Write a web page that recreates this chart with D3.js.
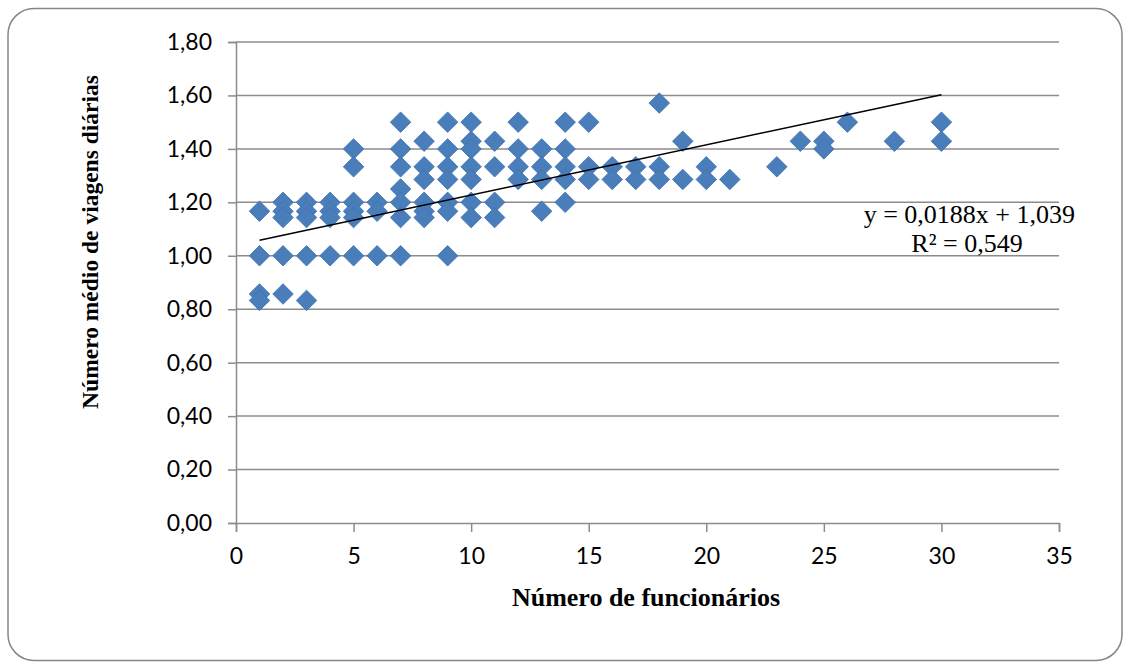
<!DOCTYPE html>
<html><head><meta charset="utf-8">
<script src="https://cdn.jsdelivr.net/npm/d3@7"></script>
<style>body{margin:0;background:#fff;}svg{display:block;}</style>
</head><body>
<script>
// Data: number of employees (x) and average daily trips (y)
const funcionarios = [
 1,1,1,1,
 2,2,2,2,2,
 3,3,3,3,3,
 4,4,4,4,
 5,5,5,5,5,5,
 6,6,6,
 7,7,7,7,7,7,7,
 8,8,8,8,8,8,
 9,9,9,9,9,9,9,
 10,10,10,10,10,10,10,
 11,11,11,11,
 12,12,12,12,
 13,13,13,13,
 14,14,14,14,14,
 15,15,15,
 16,16,
 17,17,
 18,18,18,
 19,19,
 20,20,
 21,
 23,
 24,
 25,25,
 26,
 28,
 30,30
];
const viagens = [
 1.1667,1.0,0.857,0.833,
 1.2,1.1667,1.143,1.0,0.857,
 1.2,1.1667,1.143,1.0,0.833,
 1.2,1.1667,1.143,1.0,
 1.4,1.333,1.2,1.1667,1.143,1.0,
 1.2,1.1667,1.0,
 1.5,1.4,1.333,1.25,1.2,1.143,1.0,
 1.4286,1.333,1.2857,1.2,1.1667,1.143,
 1.5,1.4,1.333,1.2857,1.2,1.1667,1.0,
 1.5,1.4286,1.4,1.333,1.2857,1.2,1.143,
 1.4286,1.333,1.2,1.143,
 1.5,1.4,1.333,1.2857,
 1.4,1.333,1.2857,1.1667,
 1.5,1.4,1.333,1.2857,1.2,
 1.5,1.333,1.2857,
 1.333,1.2857,
 1.333,1.2857,
 1.5714,1.333,1.2857,
 1.4286,1.2857,
 1.333,1.2857,
 1.2857,
 1.333,
 1.4286,
 1.4286,1.4,
 1.5,
 1.4286,
 1.5,1.4286
];
const xTicks = [0,5,10,15,20,25,30,35];
const yTicks = [0,0.2,0.4,0.6,0.8,1.0,1.2,1.4,1.6,1.8];
const trendSlope = 0.0188, trendIntercept = 1.039;
const trendRange = [1, 30];
const eqLabel = "y = 0,0188x + 1,039";
const r2Label = "R² = 0,549";
const xTitle = "Número de funcionários";
const yTitle = "Número médio de viagens diárias";

const W = 1125, H = 664;
const svg = d3.select("body").append("svg").attr("width", W).attr("height", H);

// chart border
svg.append("rect").attr("x", 8).attr("y", 8.5).attr("width", 1114).attr("height", 652)
  .attr("rx", 26).attr("ry", 26).attr("fill", "#fff").attr("stroke", "#868686").attr("stroke-width", 1.5);

const x = d3.scaleLinear().domain([0, 35]).range([236, 1059]);
const y = d3.scaleLinear().domain([0, 1.8]).range([523, 42]);
const fmt = d => d.toFixed(2).replace(".", ",");

// gridlines
svg.append("g").selectAll("line").data(yTicks.slice(1)).join("line")
  .attr("x1", x(0)).attr("x2", x(35)).attr("y1", d => y(d)).attr("y2", d => y(d))
  .attr("stroke", "#8c8c8c").attr("stroke-width", 1.5);

// axes
const yAxis = svg.append("g").attr("transform", `translate(${x(0)},0)`)
  .call(d3.axisLeft(y).tickValues(yTicks).tickFormat(fmt).tickSize(8).tickPadding(16));
const xAxis = svg.append("g").attr("transform", `translate(0,${y(0)})`)
  .call(d3.axisBottom(x).tickValues(xTicks).tickFormat(d3.format("d")).tickSize(9).tickPadding(16));
[yAxis, xAxis].forEach(g => {
  g.select(".domain").attr("stroke", "#8c8c8c").attr("stroke-width", 1.5);
  g.selectAll(".tick line").attr("stroke", "#8c8c8c").attr("stroke-width", 1.5);
  g.selectAll("text").attr("font-family", "Lato, 'Open Sans', sans-serif").attr("font-size", 23).attr("fill", "#000");
});

// points
const pts = funcionarios.map((f, i) => ({f, v: viagens[i]}));
svg.append("g").selectAll("path").data(pts).join("path")
  .attr("d", d3.symbol().type(d3.symbolSquare).size(210))
  .attr("transform", d => `translate(${x(d.f)},${y(d.v)}) rotate(45)`)
  .attr("fill", "#4a7ebb").attr("stroke", "#3f72b0").attr("stroke-width", 0.8);

// trendline
svg.append("line")
  .attr("x1", x(trendRange[0])).attr("y1", y(trendSlope * trendRange[0] + trendIntercept))
  .attr("x2", x(trendRange[1])).attr("y2", y(trendSlope * trendRange[1] + trendIntercept))
  .attr("stroke", "#000").attr("stroke-width", 1.5);

// equation
svg.append("text").attr("x", 1075).attr("y", 223).attr("text-anchor", "end")
  .attr("font-family", "'Liberation Serif', 'Times New Roman', serif").attr("font-size", 26).text(eqLabel);
svg.append("text").attr("x", 967).attr("y", 252).attr("text-anchor", "middle")
  .attr("font-family", "'Liberation Serif', 'Times New Roman', serif").attr("font-size", 26).text(r2Label);

// axis titles
svg.append("text").attr("x", 646).attr("y", 606).attr("text-anchor", "middle")
  .attr("font-family", "'Liberation Serif', serif").attr("font-weight", "bold").attr("font-size", 26).text(xTitle);
svg.append("text").attr("transform", "translate(98,242) rotate(-90)").attr("text-anchor", "middle")
  .attr("font-family", "'Liberation Serif', serif").attr("font-weight", "bold").attr("font-size", 23.5).text(yTitle);
</script>
</body></html>
